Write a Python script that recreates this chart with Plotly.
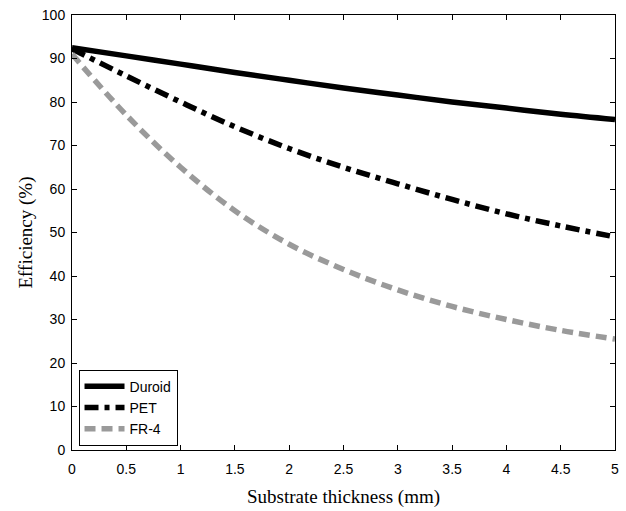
import plotly.graph_objects as go

x = [0, 0.5, 1, 1.5, 2, 2.5, 3, 3.5, 4, 4.5, 5]
duroid = [92.5, 90.6, 88.7, 86.8, 85.0, 83.2, 81.6, 80.0, 78.6, 77.2, 76.0]
pet = [92.2, 86.0, 80.0, 74.3, 69.3, 65.0, 61.2, 57.6, 54.3, 51.5, 49.0]
fr4 = [91.0, 77.0, 65.0, 55.0, 47.3, 41.5, 36.8, 33.0, 30.0, 27.5, 25.5]

xticks = [0, 0.5, 1, 1.5, 2, 2.5, 3, 3.5, 4, 4.5, 5]
xticklabels = ["0", "0.5", "1", "1.5", "2", "2.5", "3", "3.5", "4", "4.5", "5"]
yticks = [0, 10, 20, 30, 40, 50, 60, 70, 80, 90, 100]

fig = go.Figure()
fig.add_trace(go.Scatter(x=x, y=duroid, mode="lines", name="Duroid",
                         line=dict(color="black", width=5.5, shape="spline")))
fig.add_trace(go.Scatter(x=x, y=pet, mode="lines", name="PET",
                         line=dict(color="black", width=5.5, dash="14px,6px,5px,6px", shape="spline")))
fig.add_trace(go.Scatter(x=x, y=fr4, mode="lines", name="FR-4",
                         line=dict(color="#9a9a9a", width=5.5, dash="11px,6px", shape="spline")))

axis_common = dict(showline=True, linecolor="black", linewidth=1, mirror="ticks",
                   ticks="inside", ticklen=5, tickcolor="black", showgrid=False,
                   zeroline=False, tickfont=dict(family="Liberation Sans", size=14, color="black"))

fig.update_xaxes(range=[0, 5], tickvals=xticks, ticktext=xticklabels,
                 ticklabelstandoff=6,
                 title=dict(text="Substrate thickness (mm)",
                            font=dict(family="Liberation Serif", size=19, color="black"),
                            standoff=13),
                 **axis_common)
fig.update_yaxes(range=[0, 100], tickvals=yticks,
                 ticklabelstandoff=3,
                 title=dict(text="Efficiency (%)",
                            font=dict(family="Liberation Serif", size=19, color="black"),
                            standoff=4),
                 **axis_common)

fig.update_layout(
    width=626, height=511,
    margin=dict(l=72, r=7, t=15, b=61),
    paper_bgcolor="white", plot_bgcolor="white",
    showlegend=True,
    legend=dict(x=0.012, y=0.01, xanchor="left", yanchor="bottom",
                bgcolor="white", bordercolor="black", borderwidth=1,
                font=dict(family="Liberation Sans", size=14, color="black"),
                tracegroupgap=0, itemwidth=40),
)

fig.write_html("out.html")
